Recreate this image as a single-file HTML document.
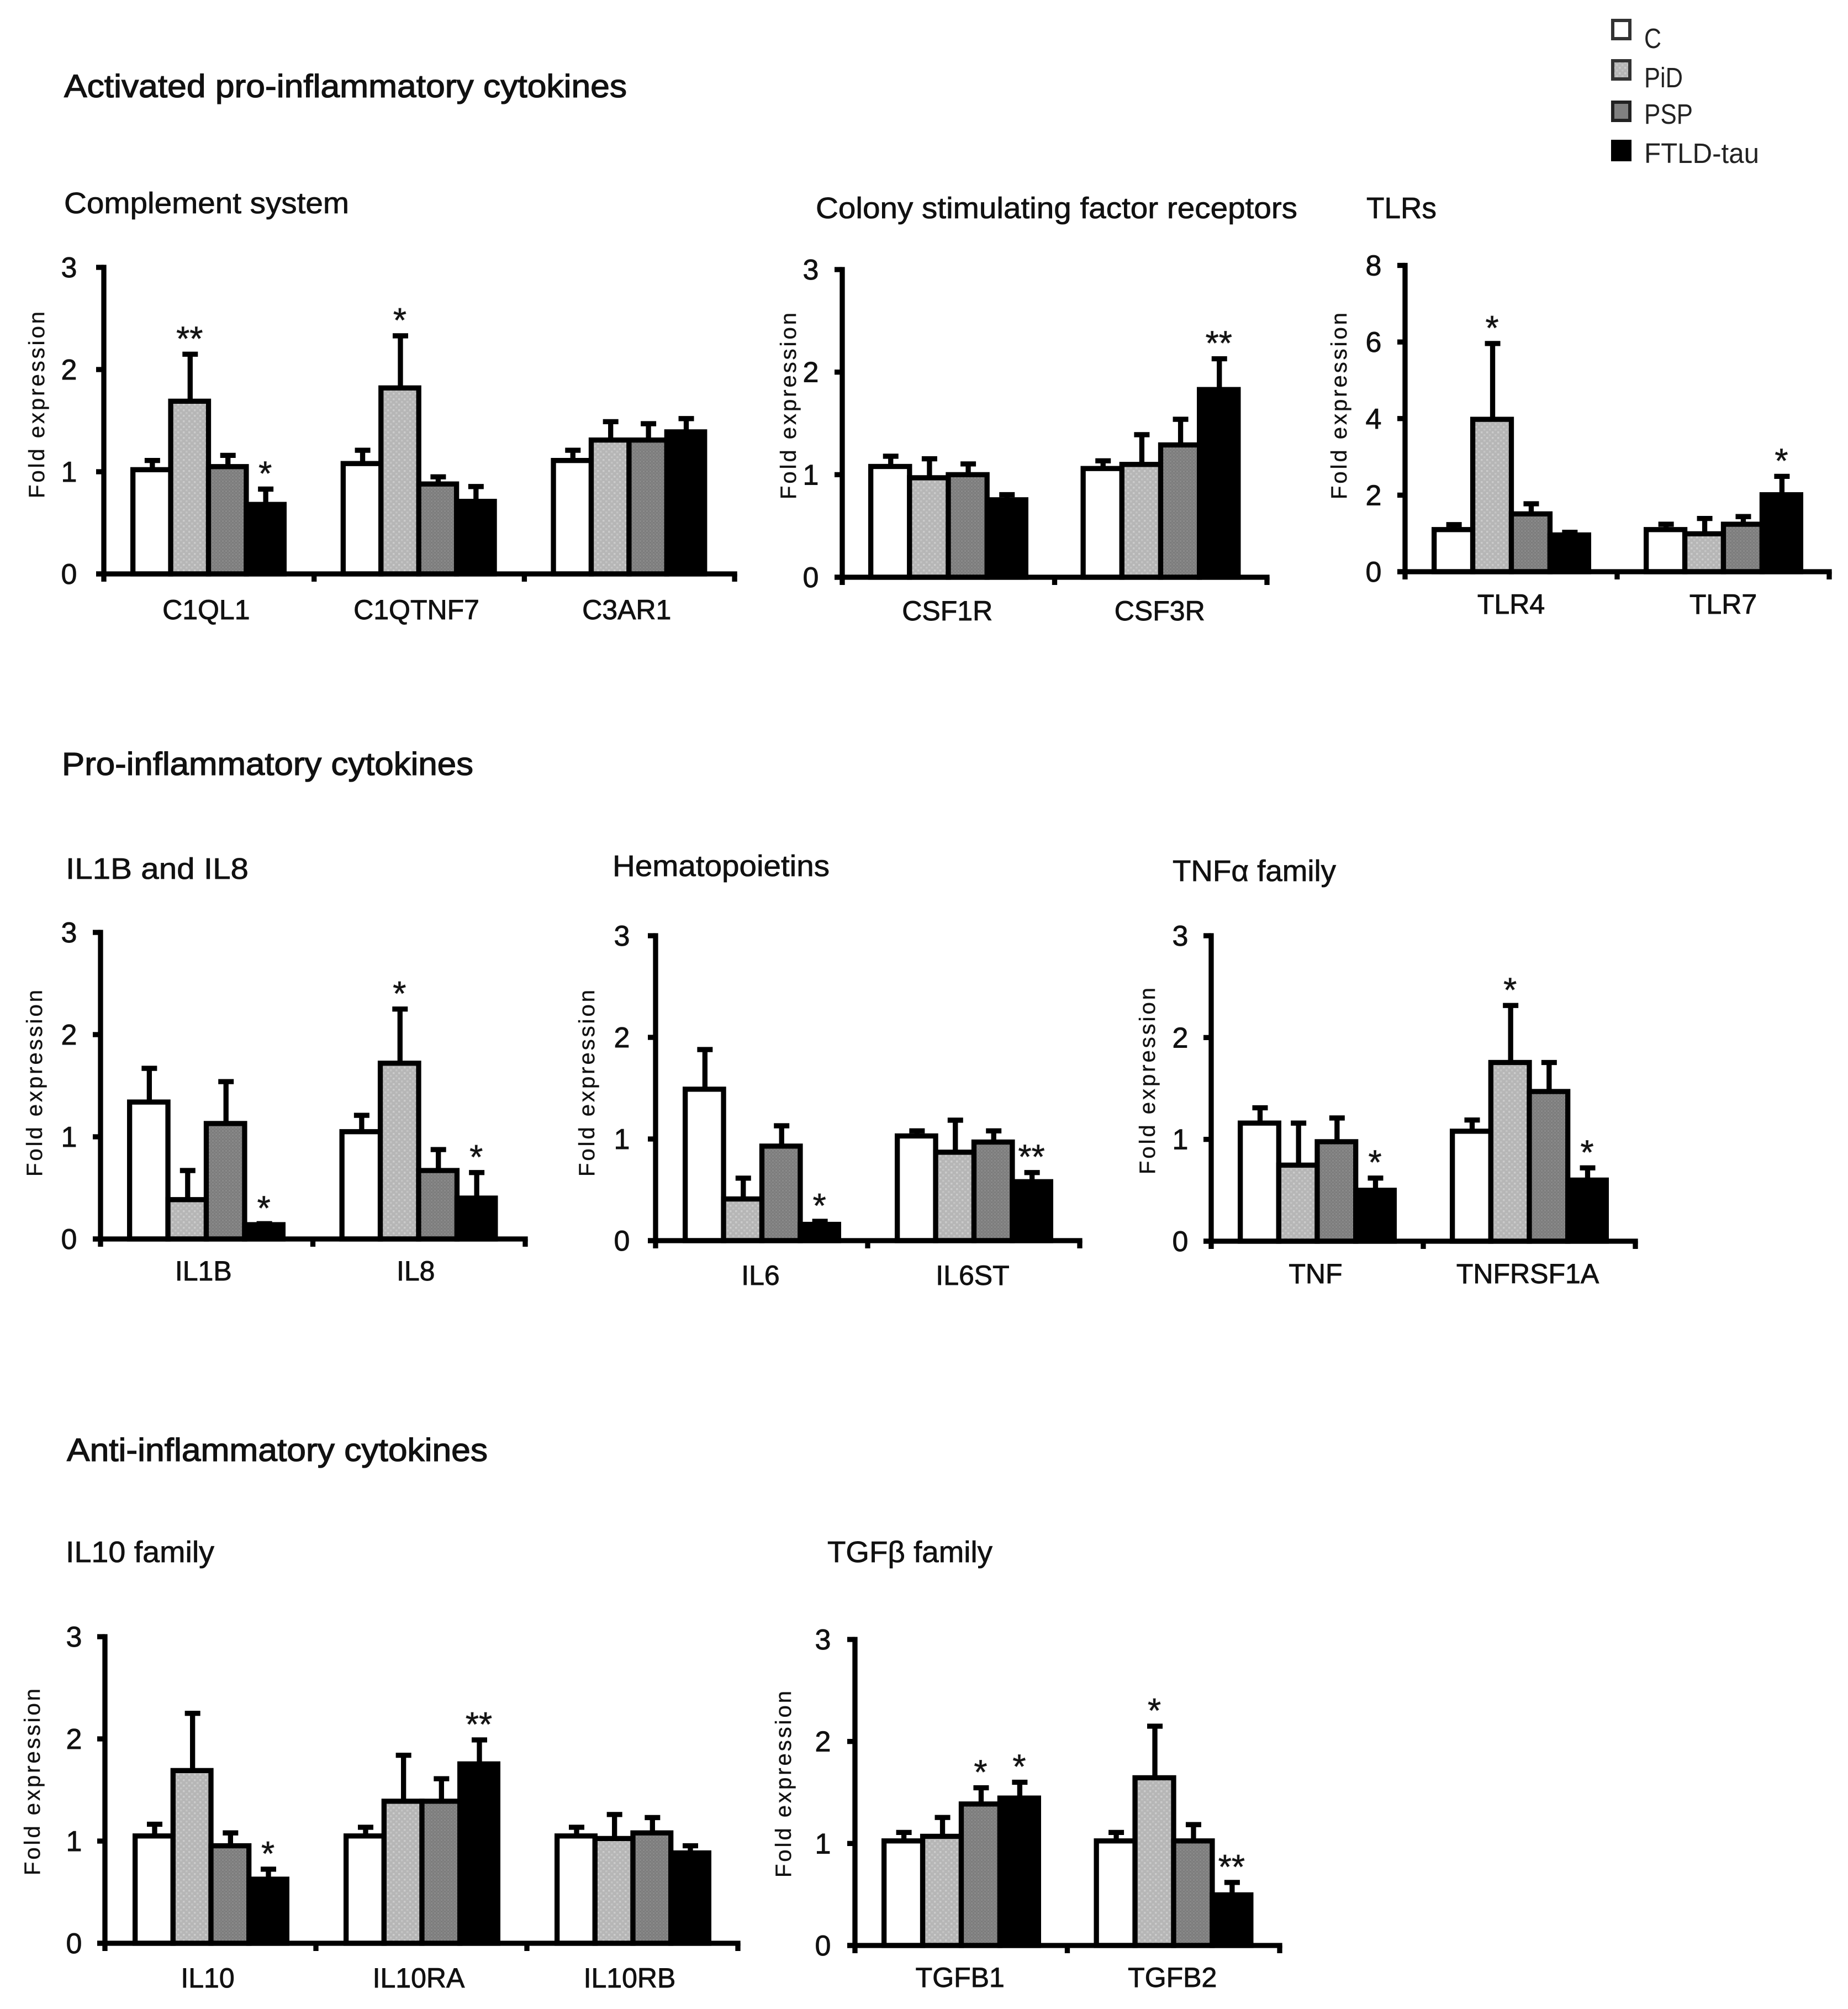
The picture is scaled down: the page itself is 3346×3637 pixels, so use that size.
<!DOCTYPE html>
<html>
<head>
<meta charset="utf-8">
<title>Fold expression of cytokines</title>
<style>
html,body{margin:0;padding:0;background:#fff;}
svg{display:block;}
text{font-family:"Liberation Sans",Arial,sans-serif;fill:#111;}
.section{font-size:58px;stroke:#111;stroke-width:1.3px;}
.sub{font-size:54px;stroke:#111;stroke-width:.8px;}
.leg{font-size:51px;fill:#222;}
</style>
</head>
<body>
<svg id="figure" xmlns="http://www.w3.org/2000/svg" width="3346" height="3637" viewBox="0 0 3346 3637">
<defs>
<pattern id="dotsLight" width="10" height="10" patternUnits="userSpaceOnUse">
<rect width="10" height="10" fill="#b6b6b6"/>
<rect x="1" y="1" width="3.5" height="3.5" fill="#cbcbcb"/>
<rect x="6" y="6" width="3.5" height="3.5" fill="#c4c4c4"/>
</pattern>
<pattern id="ditherDark" width="6" height="6" patternUnits="userSpaceOnUse">
<rect width="6" height="6" fill="#7c7c7c"/>
<rect x="0" y="0" width="3" height="3" fill="#8a8a8a"/>
<rect x="3" y="3" width="3" height="3" fill="#848484"/>
</pattern>
</defs>
<rect width="3346" height="3637" fill="#fff"/>

<text class="section" x="116" y="176" textLength="1019" lengthAdjust="spacingAndGlyphs">Activated pro-inflammatory cytokines</text>
<text class="section" x="112" y="1403" textLength="745" lengthAdjust="spacingAndGlyphs">Pro-inflammatory cytokines</text>
<text class="section" x="121" y="2645" textLength="762" lengthAdjust="spacingAndGlyphs">Anti-inflammatory cytokines</text>

<text class="sub" x="116" y="386" textLength="516" lengthAdjust="spacingAndGlyphs">Complement system</text>
<text class="sub" x="1477" y="395" textLength="872" lengthAdjust="spacingAndGlyphs">Colony stimulating factor receptors</text>
<text class="sub" x="2474" y="395" textLength="127" lengthAdjust="spacingAndGlyphs">TLRs</text>
<text class="sub" x="119" y="1591" textLength="331" lengthAdjust="spacingAndGlyphs">IL1B  and IL8</text>
<text class="sub" x="1109" y="1586" textLength="393" lengthAdjust="spacingAndGlyphs">Hematopoietins</text>
<text class="sub" x="2123" y="1595" textLength="296" lengthAdjust="spacingAndGlyphs">TNFα family</text>
<text class="sub" x="119" y="2828" textLength="269" lengthAdjust="spacingAndGlyphs">IL10 family</text>
<text class="sub" x="1498" y="2828" textLength="299" lengthAdjust="spacingAndGlyphs">TGFβ family</text>

<g>
<g>
<rect x="2920" y="37" width="31" height="33" fill="#fff" stroke="#333" stroke-width="6"/>
<text class="leg" x="2977" y="87" textLength="31" lengthAdjust="spacingAndGlyphs">C</text>
</g>
<g>
<rect x="2920" y="110" width="31" height="33" fill="url(#dotsLight)" stroke="#333" stroke-width="6"/>
<text class="leg" x="2977" y="158" textLength="70" lengthAdjust="spacingAndGlyphs">PiD</text>
</g>
<g>
<rect x="2920" y="185" width="31" height="33" fill="#808080" stroke="#222" stroke-width="6"/>
<text class="leg" x="2977" y="224" textLength="88" lengthAdjust="spacingAndGlyphs">PSP</text>
</g>
<g>
<rect x="2920" y="256" width="31" height="33" fill="#000" stroke="#000" stroke-width="6"/>
<text class="leg" x="2977" y="295" textLength="208" lengthAdjust="spacingAndGlyphs">FTLD-tau</text>
</g>
</g>
<g id="charts"></g>
</svg>
<script>
// Shared data
const seriesNames = ["C", "PiD", "PSP", "FTLD-tau"];
const ticks3 = [0, 1, 2, 3];
const ticks8 = [0, 2, 4, 6, 8];

// Complement system
const complementCategories = ["C1QL1", "C1QTNF7", "C3AR1"];
const complementMeans = [[1.02, 1.69, 1.05, 0.68], [1.08, 1.82, 0.88, 0.71], [1.11, 1.31, 1.31, 1.39]];
const complementUpper = [[1.11, 2.15, 1.16, 0.83], [1.21, 2.33, 0.95, 0.855], [1.21, 1.49, 1.47, 1.52]];
const complementStars = [["", "**", "", "*"], ["", "*", "", ""], ["", "", "", ""]];

// Colony stimulating factor receptors
const colonyCategories = ["CSF1R", "CSF3R"];
const colonyMeans = [[1.08, 0.97, 1.0, 0.755], [1.06, 1.10, 1.29, 1.83]];
const colonyUpper = [[1.18, 1.155, 1.105, 0.805], [1.135, 1.39, 1.54, 2.13]];
const colonyStars = [["", "", "", ""], ["", "", "", "**"]];

// TLRs
const tlrCategories = ["TLR4", "TLR7"];
const tlrMeans = [[1.10, 3.98, 1.51, 0.96], [1.10, 0.99, 1.24, 2.01]];
const tlrUpper = [[1.23, 5.96, 1.775, 1.03], [1.24, 1.39, 1.44, 2.49]];
const tlrStars = [["", "*", "", ""], ["", "", "", "*"]];

// IL1B and IL8
const il1Categories = ["IL1B", "IL8"];
const il1Means = [[1.34, 0.385, 1.13, 0.14], [1.05, 1.72, 0.67, 0.40]];
const il1Upper = [[1.67, 0.67, 1.54, 0.15], [1.21, 2.25, 0.875, 0.65]];
const il1Stars = [["", "", "", "*"], ["", "*", "", "*"]];

// Hematopoietins
const hemaCategories = ["IL6", "IL6ST"];
const hemaMeans = [[1.49, 0.41, 0.93, 0.16], [1.03, 0.87, 0.97, 0.58]];
const hemaUpper = [[1.88, 0.615, 1.13, 0.19], [1.08, 1.185, 1.08, 0.67]];
const hemaStars = [["", "", "", "*"], ["", "", "", "**"]];

// TNF alpha family
const tnfCategories = ["TNF", "TNFRSF1A"];
const tnfMeans = [[1.16, 0.747, 0.977, 0.50], [1.08, 1.755, 1.47, 0.60]];
const tnfUpper = [[1.31, 1.16, 1.21, 0.62], [1.19, 2.315, 1.755, 0.72]];
const tnfStars = [["", "", "", "*"], ["", "*", "", "*"]];

// IL10 family
const il10Categories = ["IL10", "IL10RA", "IL10RB"];
const il10Means = [[1.05, 1.69, 0.954, 0.627], [1.05, 1.39, 1.39, 1.755], [1.05, 1.025, 1.08, 0.884]];
const il10Upper = [[1.165, 2.25, 1.08, 0.725], [1.135, 1.84, 1.61, 1.99], [1.135, 1.26, 1.23, 0.954]];
const il10Stars = [["", "", "", "*"], ["", "", "", "**"], ["", "", "", ""]];

// TGF beta family
const tgfCategories = ["TGFB1", "TGFB2"];
const tgfMeans = [[1.025, 1.07, 1.387, 1.445], [1.025, 1.644, 1.025, 0.496]];
const tgfUpper = [[1.108, 1.255, 1.546, 1.6], [1.108, 2.15, 1.185, 0.618]];
const tgfStars = [["", "", "*", "*"], ["", "*", "", "**"]];

const SVGNS = "http://www.w3.org/2000/svg";
const seriesFills = ["#ffffff", "url(#dotsLight)", "url(#ditherDark)", "#000000"];
const LINE = 9.3;

function make(tag, parent, attrs) {
  const node = document.createElementNS(SVGNS, tag);
  for (const k in attrs) node.setAttribute(k, attrs[k]);
  parent.appendChild(node);
  return node;
}

function drawPanel(p) {
  const root = document.getElementById("charts");
  const g = make("g", root, {});
  
  
  const yMax = p.yTicks[p.yTicks.length - 1];
  const yScale = function (v) { return p.baseY - v * (p.baseY - p.topY) / yMax; };
  const bandX = function (c) { return p.axisX + c * p.catW; };
  const barW = (p.groupW - LINE) / 4;
  const barX = function (c, s) { return bandX(c) + p.groupOff + LINE / 2 + s * barW; };

  // y title
  const tx = p.titleX, ty = p.titleY;
  const yTitle = make("text", g, {
    x: tx, y: ty, transform: "rotate(-90 " + tx + " " + ty + ")",
    "text-anchor": "middle", "font-size": 40, textLength: 338, lengthAdjust: "spacing",
    fill: "#222", stroke: "#222", "stroke-width": 0.5
  });
  yTitle.textContent = "Fold expression";
  
  

  // bars + error bars
  p.categories.forEach(function (cat, c) {
    seriesNames.forEach(function (name, s) {
      const mean = p.means[c][s];
      const upper = p.upper[c][s];
      const cx = barX(c, s) + barW / 2 + 1;
      const stem = make("line", g, { x1: cx, x2: cx, y1: yScale(mean), y2: yScale(upper), stroke: "#000", "stroke-width": LINE });
      
      
      const cap = make("line", g, { x1: cx - 14, x2: cx + 14, y1: yScale(upper), y2: yScale(upper), stroke: "#000", "stroke-width": LINE });
      
      
    });
    seriesNames.forEach(function (name, s) {
      const mean = p.means[c][s];
      const bar = make("rect", g, {
        x: barX(c, s), y: yScale(mean), width: barW, height: p.baseY - yScale(mean),
        fill: seriesFills[s], stroke: "#000", "stroke-width": LINE
      });
      
      
    });
    seriesNames.forEach(function (name, s) {
      const mark = p.stars[c][s];
      if (!mark) return;
      const cx = barX(c, s) + barW / 2;
      const star = make("text", g, {
        x: cx, y: yScale(p.upper[c][s]) - 7, "text-anchor": "middle", "font-size": 62,
        fill: "#333", stroke: "#333", "stroke-width": 0.8
      });
      star.textContent = mark;
      
      
    });
    const label = make("text", g, {
      x: bandX(c) + p.catW / 2 + p.labelOff, y: p.baseY + p.labelDy, "text-anchor": "middle",
      "font-size": 50, fill: "#111", stroke: "#111", "stroke-width": 0.9
    });
    label.textContent = cat;
    
    
  });

  // axes
  const yAxis = make("line", g, { x1: p.axisX, x2: p.axisX, y1: p.topY - LINE / 2, y2: p.baseY + 14, stroke: "#000", "stroke-width": LINE });
  
  
  const xEnd = bandX(p.categories.length);
  const xAxis = make("line", g, { x1: p.axisX - 14, x2: xEnd + LINE / 2, y1: p.baseY, y2: p.baseY, stroke: "#000", "stroke-width": LINE });
  
  
  for (let c = 1; c <= p.categories.length; c++) {
    const t = make("line", g, { x1: bandX(c), x2: bandX(c), y1: p.baseY, y2: p.baseY + 14, stroke: "#000", "stroke-width": LINE });
    
    
  }
  p.yTicks.forEach(function (v) {
    const t = make("line", g, { x1: p.axisX - 14, x2: p.axisX, y1: yScale(v), y2: yScale(v), stroke: "#000", "stroke-width": LINE });
    
    
    const lab = make("text", g, {
      x: p.axisX - p.tickDx, y: yScale(v) + 18, "text-anchor": "middle",
      "font-size": 52, fill: "#111", stroke: "#111", "stroke-width": 0.9
    });
    lab.textContent = String(v);
    
    
  });
}

const panels = [
  { id: "complement", categories: complementCategories, means: complementMeans, upper: complementUpper, stars: complementStars, yTicks: ticks3,
    axisX: 188, topY: 484, baseY: 1039, catW: 380.7, groupOff: 48, groupW: 283, titleX: 80, titleY: 733, tickDx: 63, labelDy: 82, labelOff: -5 },
  { id: "colony", categories: colonyCategories, means: colonyMeans, upper: colonyUpper, stars: colonyStars, yTicks: ticks3,
    axisX: 1525, topY: 488, baseY: 1045, catW: 384.5, groupOff: 47, groupW: 290, titleX: 1441, titleY: 735, tickDx: 57, labelDy: 78, labelOff: -2 },
  { id: "tlrs", categories: tlrCategories, means: tlrMeans, upper: tlrUpper, stars: tlrStars, yTicks: ticks8,
    axisX: 2544, topY: 480.5, baseY: 1035, catW: 384, groupOff: 48, groupW: 289, titleX: 2438, titleY: 735, tickDx: 57, labelDy: 76, labelOff: 0 },
  { id: "il1b-il8", categories: il1Categories, means: il1Means, upper: il1Upper, stars: il1Stars, yTicks: ticks3,
    axisX: 182, topY: 1688, baseY: 2243, catW: 384.5, groupOff: 48, groupW: 287, titleX: 76, titleY: 1961, tickDx: 57, labelDy: 75, labelOff: -6 },
  { id: "hematopoietins", categories: hemaCategories, means: hemaMeans, upper: hemaUpper, stars: hemaStars, yTicks: ticks3,
    axisX: 1187, topY: 1694, baseY: 2246, catW: 384, groupOff: 49, groupW: 287, titleX: 1076, titleY: 1961, tickDx: 61, labelDy: 80, labelOff: -2 },
  { id: "tnf", categories: tnfCategories, means: tnfMeans, upper: tnfUpper, stars: tnfStars, yTicks: ticks3,
    axisX: 2193, topY: 1694, baseY: 2247, catW: 384, groupOff: 48, groupW: 288, titleX: 2091, titleY: 1957, tickDx: 56, labelDy: 76, labelOff: -3 },
  { id: "il10", categories: il10Categories, means: il10Means, upper: il10Upper, stars: il10Stars, yTicks: ticks3,
    axisX: 190, topY: 2963, baseY: 3518, catW: 382, groupOff: 50, groupW: 284, titleX: 72, titleY: 3226, tickDx: 56, labelDy: 80, labelOff: -5 },
  { id: "tgfb", categories: tgfCategories, means: tgfMeans, upper: tgfUpper, stars: tgfStars, yTicks: ticks3,
    axisX: 1548, topY: 2968, baseY: 3522, catW: 384.5, groupOff: 48, groupW: 289, titleX: 1432, titleY: 3230, tickDx: 58, labelDy: 75, labelOff: -2 }
];
panels.forEach(drawPanel);
</script>
</body>
</html>
